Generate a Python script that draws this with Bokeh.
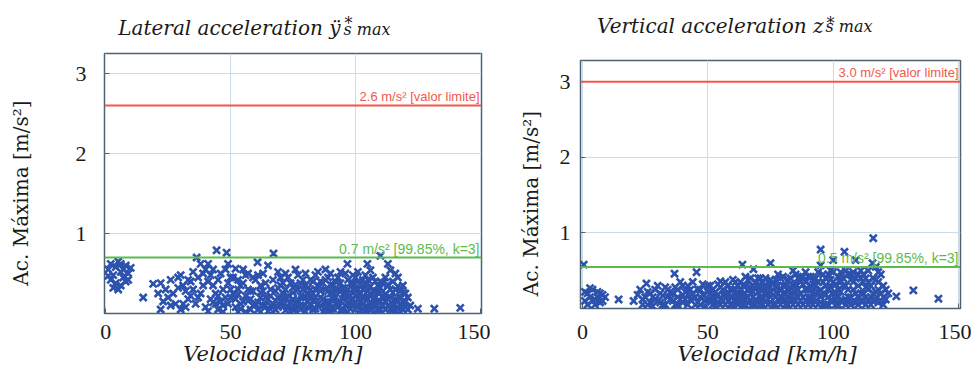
from bokeh.plotting import figure
from bokeh.layouts import row, column
from bokeh.models import Label, Span, Range1d, FixedTicker, Spacer
from bokeh.embed import file_html
from bokeh.resources import INLINE

# ---------------- data ----------------
speed_ticks = [0, 50, 100, 150]
acc_ticks = [1, 2, 3]

lat_limit = 2.6
lat_limit_text = "2.6 m/s² [valor limite]"
lat_p9985 = 0.7
lat_p9985_text = "0.7 m/s² [99.85%, k=3]"

vert_limit = 3.0
vert_limit_text = "3.0 m/s² [valor limite]"
vert_p9985 = 0.55
vert_p9985_text = "0.5 m/s² [99.85%, k=3]"

lat_title = ["Lateral acceleration ÿ", "*", "s max"]
vert_title = ["Vertical acceleration z", "*", "s max"]
y_title = "Ac. Máxima [m/s²]"
x_title = "Velocidad [km/h]"

# lateral acceleration samples: (speed km/h, acc m/s2)
lateral_points = [
    (1, 0.55), (2, 0.62), (3, 0.48), (4, 0.58), (5, 0.65), (6, 0.52), (7, 0.45), (8, 0.60), (9, 0.50), (2, 0.42),
    (4, 0.38), (6, 0.35), (8, 0.40), (3, 0.32), (5, 0.30), (7, 0.55), (9, 0.42), (10, 0.57), (1, 0.47), (6, 0.62),
    (15, 0.20),
    (19, 0.37), (22, 0.38), (24, 0.30), (26, 0.42), (27, 0.25), (29, 0.45), (30, 0.48), (31, 0.35), (32, 0.28), (33, 0.18),
    (34, 0.40), (25, 0.20), (28, 0.12), (30, 0.05), (32, 0.08), (34, 0.22), (21, 0.25), (23, 0.15), (35, 0.30), (36, 0.12),
    (36.4, 0.70), (38, 0.62), (40, 0.55), (41, 0.62), (42, 0.48), (43, 0.35), (44, 0.25), (44.4, 0.79), (45, 0.42), (46, 0.15),
    (47, 0.30), (48.4, 0.76), (48, 0.55), (49, 0.62), (50, 0.20), (37, 0.45), (39, 0.35), (40, 0.08), (42, 0.18), (45, 0.05),
    (47, 0.10), (49, 0.38), (38, 0.25), (43, 0.55),
    (51, 0.45), (52, 0.56), (53, 0.30), (54, 0.12), (55, 0.38), (56, 0.22), (57, 0.50), (58, 0.05), (59, 0.28), (60, 0.42),
    (52, 0.08), (54, 0.35), (56, 0.48), (58, 0.18), (60, 0.12), (51, 0.25), (53, 0.02), (55, 0.15), (57, 0.30), (59, 0.45),
    (60.8, 0.64), (62, 0.35), (63, 0.50), (64, 0.20), (65, 0.60), (66, 0.10), (67.2, 0.75), (67, 0.42), (68, 0.28), (69, 0.52),
    (70, 0.15), (61, 0.05), (62, 0.20), (63, 0.10), (64, 0.38), (65, 0.03), (66, 0.30), (68, 0.05), (69, 0.20), (70, 0.35),
    (61, 0.48), (63, 0.28), (67, 0.12), (70, 0.45),
    (71, 0.25), (72, 0.50), (73, 0.08), (74, 0.38), (75, 0.18), (76, 0.55), (77, 0.30), (78, 0.05), (79, 0.42), (80, 0.20),
    (71, 0.10), (72, 0.30), (73, 0.45), (74, 0.02), (75, 0.32), (76, 0.12), (77, 0.48), (78, 0.22), (79, 0.10), (80, 0.35),
    (72, 0.18), (75, 0.05), (78, 0.38), (80, 0.50),
    (81, 0.15), (82, 0.42), (83, 0.05), (84, 0.30), (85, 0.52), (86, 0.20), (87, 0.38), (88, 0.08), (89, 0.45), (90, 0.25),
    (81, 0.32), (82, 0.10), (83, 0.25), (84, 0.48), (85, 0.12), (86, 0.40), (87, 0.02), (88, 0.30), (89, 0.15), (90, 0.50),
    (82, 0.22), (85, 0.35), (88, 0.55), (90, 0.05),
    (91, 0.35), (92, 0.12), (93, 0.45), (94, 0.28), (95, 0.05), (96, 0.50), (96.8, 0.62), (97, 0.20), (98, 0.38), (99, 0.10),
    (100, 0.45), (91, 0.18), (92, 0.40), (93, 0.08), (94, 0.15), (95, 0.32), (96, 0.25), (97, 0.02), (98, 0.12), (99, 0.30),
    (100, 0.22), (92, 0.28), (94, 0.52), (97, 0.42), (99, 0.48), (100, 0.05),
    (101, 0.30), (102, 0.15), (103, 0.42), (104, 0.08), (104.8, 0.62), (105, 0.28), (106, 0.54), (107, 0.18), (108, 0.40), (109, 0.05),
    (110, 0.72), (110, 0.32), (101, 0.08), (102, 0.38), (103, 0.20), (104, 0.48), (105, 0.02), (106, 0.25), (107, 0.45), (108, 0.12),
    (109, 0.35), (110, 0.15), (101, 0.52), (103, 0.05), (106, 0.10), (108, 0.28), (102, 0.25), (105, 0.42),
    (111, 0.22), (112, 0.45), (113, 0.62), (113, 0.10), (114, 0.54), (114, 0.30), (115, 0.05), (115, 0.40), (116, 0.18), (117, 0.45),
    (117, 0.08), (118, 0.28), (118, 0.02), (119, 0.15), (119, 0.35), (120, 0.08), (121, 0.20), (111, 0.38), (112, 0.05), (116, 0.30),
    (120, 0.25), (112, 0.15), (116, 0.50),
    (125, 0.06), (131.6, 0.06), (142, 0.07),
    # dense lower band
    (41, 0.03), (43, 0.14), (45, 0.22), (47, 0.02), (49, 0.12), (50, 0.30),
    (52, 0.18), (53, 0.24), (54, 0.06), (56, 0.02), (57, 0.16), (58, 0.28), (59, 0.10),
    (61, 0.14), (62, 0.02), (62, 0.26), (64, 0.10), (65, 0.18), (66, 0.22), (67, 0.02), (68, 0.16), (69, 0.08), (69, 0.32),
    (71, 0.18), (71, 0.38), (72, 0.04), (73, 0.22), (74, 0.14), (75, 0.26), (76, 0.06), (76, 0.36), (77, 0.16), (78, 0.10),
    (79, 0.20), (79, 0.30), (80, 0.02),
    (81, 0.08), (81, 0.24), (82, 0.30), (83, 0.16), (83, 0.40), (84, 0.06), (84, 0.20), (86, 0.10), (86, 0.28), (87, 0.18),
    (88, 0.14), (88, 0.42), (89, 0.04), (89, 0.28), (90, 0.12), (90, 0.36),
    (91, 0.06), (91, 0.26), (92, 0.20), (93, 0.14), (93, 0.30), (94, 0.04), (94, 0.38), (95, 0.18), (95, 0.24), (96, 0.10),
    (97, 0.30), (97, 0.12), (98, 0.06), (98, 0.22), (99, 0.18), (99, 0.38), (100, 0.14), (100, 0.30),
    (101, 0.18), (101, 0.40), (102, 0.04), (103, 0.12), (103, 0.30), (104, 0.20), (104, 0.36), (105, 0.08), (105, 0.18), (106, 0.04),
    (106, 0.34), (107, 0.10), (107, 0.28), (108, 0.20), (108, 0.02), (109, 0.14), (109, 0.26), (110, 0.05), (110, 0.40),
    (111, 0.10), (111, 0.28), (112, 0.24), (113, 0.18), (113, 0.36), (114, 0.06), (114, 0.20), (115, 0.12), (115, 0.26), (116, 0.04),
    (117, 0.16), (117, 0.34), (118, 0.10), (118, 0.20), (119, 0.05), (119, 0.26), (120, 0.15), (121, 0.05), (122, 0.10),
    (22, 0.05), (26, 0.10), (29, 0.32), (31, 0.12), (33, 0.42), (35, 0.52), (37, 0.20), (39, 0.50), (41, 0.40), (44, 0.12),
    (46, 0.50), (48, 0.20), (50, 0.45), (53, 0.42), (55, 0.55),
]

# vertical acceleration samples: (speed km/h, acc m/s2)
vertical_points = [
    (0.5, 0.58), (1, 0.10), (2, 0.20), (3, 0.15), (4, 0.25), (5, 0.12), (6, 0.22), (7, 0.08), (8, 0.18), (2, 0.05),
    (4, 0.10), (6, 0.15), (1, 0.22), (3, 0.27), (5, 0.05), (7, 0.20), (8, 0.10), (9, 0.15),
    (14.4, 0.12), (20.4, 0.10),
    (22, 0.18), (24, 0.12), (25.5, 0.33), (26, 0.22), (27, 0.08), (28, 0.15), (29, 0.25), (30, 0.10), (31, 0.20), (32, 0.05),
    (33, 0.28), (34, 0.15), (35, 0.22), (36.7, 0.46), (36, 0.10), (26, 0.05), (30, 0.30), (32, 0.17), (23, 0.25),
    (37, 0.28), (38, 0.15), (39, 0.35), (40, 0.08), (41, 0.22), (42, 0.30), (43, 0.12), (44, 0.20), (45.5, 0.48), (45, 0.05),
    (46, 0.25), (47, 0.15), (48, 0.32), (49, 0.10), (50, 0.22), (38, 0.05), (41, 0.12), (44, 0.35), (47, 0.05), (50, 0.12),
    (51, 0.30), (52, 0.15), (53, 0.22), (54, 0.08), (55, 0.28), (56, 0.18), (57, 0.35), (58, 0.10), (59, 0.25), (60, 0.15),
    (52, 0.05), (54, 0.32), (56, 0.10), (58, 0.22), (60, 0.38), (55, 0.05), (53, 0.12), (59, 0.05),
    (61, 0.25), (62, 0.10), (63, 0.35), (63.8, 0.58), (64, 0.18), (65, 0.42), (66, 0.08), (67, 0.28), (68.2, 0.52), (68, 0.15),
    (69, 0.35), (70, 0.22), (61, 0.12), (62, 0.30), (64, 0.05), (65, 0.20), (66, 0.38), (67, 0.10), (69, 0.05), (70, 0.40),
    (63, 0.15), (68, 0.30),
    (71, 0.30), (72, 0.12), (73, 0.40), (74, 0.20), (75, 0.60), (75, 0.08), (76, 0.32), (77, 0.15), (78, 0.45), (79, 0.25),
    (80, 0.10), (71, 0.05), (72, 0.25), (73, 0.18), (74, 0.35), (76, 0.05), (77, 0.28), (78, 0.12), (79, 0.40), (80, 0.30),
    (75, 0.22),
    (81, 0.20), (82, 0.38), (83, 0.10), (84, 0.30), (85, 0.45), (86, 0.15), (87, 0.35), (88, 0.05), (89, 0.25), (90, 0.42),
    (81, 0.05), (82, 0.15), (83, 0.28), (84, 0.12), (85, 0.22), (86, 0.40), (87, 0.10), (88, 0.32), (89, 0.48), (90, 0.15),
    (84, 0.50),
    (91, 0.30), (92, 0.12), (93, 0.40), (94, 0.22), (95, 0.78), (95, 0.57), (95, 0.08), (96, 0.35), (97, 0.18), (98, 0.45),
    (99, 0.28), (100, 0.64), (100, 0.10), (91, 0.08), (92, 0.32), (93, 0.20), (94, 0.48), (96, 0.05), (97, 0.40), (98, 0.15),
    (99, 0.50), (100, 0.35),
    (101, 0.20), (102, 0.42), (103, 0.10), (104, 0.30), (104.5, 0.75), (105, 0.50), (106, 0.15), (107, 0.38), (108, 0.25), (109, 0.64),
    (109, 0.08), (110, 0.45), (111, 0.20), (112, 0.35), (101, 0.05), (102, 0.25), (103, 0.35), (105, 0.12), (106, 0.45), (107, 0.05),
    (108, 0.48), (110, 0.15), (111, 0.40), (112, 0.10),
    (113, 0.28), (114, 0.50), (115, 0.15), (115.7, 0.60), (116, 0.93), (116, 0.40), (117, 0.22), (117, 0.55), (118, 0.35), (118, 0.08),
    (119, 0.20), (113, 0.05), (114, 0.12), (119, 0.45), (120, 0.15), (121, 0.25),
    (125.2, 0.16), (132, 0.24), (142, 0.13),
    # dense lower band
    (24, 0.05), (25, 0.15), (27, 0.20), (28, 0.03), (29, 0.12), (31, 0.08), (33, 0.05), (34, 0.25), (35, 0.12), (36, 0.20),
    (37, 0.05), (38, 0.25), (39, 0.12), (40, 0.18), (40, 0.30), (42, 0.05), (42, 0.18), (43, 0.25), (45, 0.15), (46, 0.08),
    (47, 0.25), (48, 0.18), (49, 0.03), (50, 0.30),
    (51, 0.08), (51, 0.20), (52, 0.25), (53, 0.03), (54, 0.18), (55, 0.12), (55, 0.36), (56, 0.25), (57, 0.05), (57, 0.18),
    (58, 0.30), (59, 0.15), (60, 0.05), (60, 0.25),
    (61, 0.18), (61, 0.35), (62, 0.05), (62, 0.22), (63, 0.25), (64, 0.12), (64, 0.30), (65, 0.05), (65, 0.30), (66, 0.15),
    (66, 0.25), (67, 0.20), (67, 0.40), (68, 0.05), (68, 0.22), (69, 0.12), (69, 0.28), (70, 0.08), (70, 0.30),
    (71, 0.15), (71, 0.40), (72, 0.05), (72, 0.35), (73, 0.10), (73, 0.28), (74, 0.05), (74, 0.28), (75, 0.15), (75, 0.38),
    (76, 0.18), (76, 0.25), (77, 0.05), (77, 0.38), (78, 0.20), (78, 0.30), (79, 0.05), (79, 0.15), (80, 0.20), (80, 0.42),
    (81, 0.12), (81, 0.30), (82, 0.05), (82, 0.25), (83, 0.18), (83, 0.40), (84, 0.20), (84, 0.05), (85, 0.10), (85, 0.32),
    (86, 0.05), (86, 0.25), (87, 0.20), (87, 0.42), (88, 0.15), (88, 0.42), (89, 0.10), (89, 0.35), (90, 0.05), (90, 0.25),
    (91, 0.15), (91, 0.42), (92, 0.05), (92, 0.22), (93, 0.10), (93, 0.30), (94, 0.05), (94, 0.35), (95, 0.15), (95, 0.25),
    (96, 0.20), (96, 0.45), (97, 0.05), (97, 0.30), (98, 0.25), (98, 0.05), (99, 0.10), (99, 0.38), (100, 0.20), (100, 0.48),
    (101, 0.12), (101, 0.32), (102, 0.05), (102, 0.15), (103, 0.22), (103, 0.48), (104, 0.10), (104, 0.40), (105, 0.05), (105, 0.30),
    (106, 0.25), (106, 0.08), (107, 0.15), (107, 0.45), (108, 0.10), (108, 0.35), (109, 0.20), (109, 0.40), (110, 0.05), (110, 0.30),
    (111, 0.10), (111, 0.50), (112, 0.20), (112, 0.45), (113, 0.15), (113, 0.40), (114, 0.25), (114, 0.35), (115, 0.05), (115, 0.30),
    (116, 0.10), (116, 0.20), (117, 0.12), (117, 0.38), (118, 0.25), (118, 0.48), (119, 0.10), (120, 0.30), (120, 0.05), (121, 0.12),
    (122, 0.20),
]

# ---------------- style ----------------
FRAME = "#4d6272"
GRID = "#cddbe4"
BLUE = "#2c52ae"
RED = "#f2584a"
GREEN = "#5dbb4e"
SERIF = "Liberation Serif"
WIDE_SERIF = "DejaVu Serif"
SANS = "Liberation Sans"
INK = "#1a1a1a"
NBSP = "\u00a0"


def title_fig(parts, width, height, left, right, pos):
    t = figure(width=width, height=height, output_backend="svg", toolbar_location=None,
               x_range=Range1d(0, 1), y_range=Range1d(0, 1),
               x_axis_location=None, y_axis_location=None,
               min_border_left=left, min_border_right=right, min_border_top=0, min_border_bottom=0)
    t.outline_line_color = None
    t.grid.visible = False
    (mx, my), (sx, sy), (bx, by) = pos
    t.add_layout(Label(x=mx, y=my, x_units="screen", y_units="screen", text=parts[0],
                       text_align="right", text_baseline="alphabetic", text_font=WIDE_SERIF,
                       text_font_style="italic", text_font_size="20px", text_color=INK))
    t.add_layout(Label(x=sx, y=sy, x_units="screen", y_units="screen", text=parts[1],
                       text_align="left", text_baseline="alphabetic", text_font=WIDE_SERIF,
                       text_font_size="16px", text_color=INK))
    t.add_layout(Label(x=bx, y=by, x_units="screen", y_units="screen", text=parts[2],
                       text_align="left", text_baseline="alphabetic", text_font=WIDE_SERIF,
                       text_font_style="italic", text_font_size="16px", text_color=INK))
    return t


def panel(points, limit, limit_text, p9985, p9985_text, x_rng, y_rng,
          width, height, borders, ylab_standoff, ytick_standoff, xtick_standoff, xlab_standoff,
          ylab_pad, xlab_pad):
    left, right, top, bottom = borders
    p = figure(width=width, height=height, output_backend="svg", toolbar_location=None,
               x_range=Range1d(*x_rng), y_range=Range1d(*y_rng),
               min_border_left=left, min_border_right=right,
               min_border_top=top, min_border_bottom=bottom)
    p.background_fill_color = "white"
    p.border_fill_color = "white"
    p.outline_line_color = FRAME
    p.outline_line_width = 1.5

    p.xaxis.ticker = FixedTicker(ticks=speed_ticks)
    p.yaxis.ticker = FixedTicker(ticks=acc_ticks)
    for ax in (p.xaxis, p.yaxis):
        ax.axis_line_color = None
        ax.major_tick_in = 5
        ax.major_tick_out = 0
        ax.major_tick_line_color = FRAME
        ax.minor_tick_line_color = None
        ax.major_label_text_font = SERIF
        ax.major_label_text_font_size = "22px"
        ax.major_label_text_color = INK
        ax.axis_label_text_font = WIDE_SERIF
        ax.axis_label_text_color = INK
    # trailing non-breaking spaces shift the centred label like the reference
    p.yaxis.axis_label = y_title + NBSP * ylab_pad
    p.yaxis.axis_label_text_font_style = "normal"
    p.yaxis.axis_label_text_font_size = "20px"
    p.yaxis.axis_label_standoff = ylab_standoff
    p.yaxis.major_label_standoff = ytick_standoff
    p.xaxis.axis_label = x_title + NBSP * xlab_pad
    p.xaxis.axis_label_text_font_style = "italic"
    p.xaxis.axis_label_text_font_size = "21px"
    p.xaxis.axis_label_standoff = xlab_standoff
    p.xaxis.major_label_standoff = xtick_standoff

    p.xgrid.grid_line_color = GRID
    p.ygrid.grid_line_color = GRID
    p.xgrid.ticker = FixedTicker(ticks=speed_ticks)
    p.ygrid.ticker = FixedTicker(ticks=acc_ticks)

    p.add_layout(Span(location=limit, dimension="width", line_color=RED, line_width=2))
    p.add_layout(Span(location=p9985, dimension="width", line_color=GREEN, line_width=2))

    xs = [pt[0] for pt in points]
    ys = [pt[1] for pt in points]
    p.scatter(xs, ys, marker="x", size=10, line_width=2.6, line_color=BLUE)

    p.add_layout(Label(x=x_rng[1], y=limit, text=limit_text, text_align="right",
                       text_baseline="bottom", x_offset=-2, y_offset=2,
                       text_font=SANS, text_font_size="13px", text_color=RED))
    p.add_layout(Label(x=x_rng[1], y=p9985, text=p9985_text, text_align="right",
                       text_baseline="bottom", x_offset=-2, y_offset=1,
                       text_font=SANS, text_font_size="14px", text_color=GREEN))
    return p


t1 = title_fig(lat_title, 490, 43, 104, 9, ((236, 16), (240, 20), (239, 14)))
p1 = panel(lateral_points, lat_limit, lat_limit_text, lat_p9985, lat_p9985_text,
           (-0.5, 150.5), (0, 3.25), 490, 331, (104, 9, 10, 61),
           ylab_standoff=40, ytick_standoff=18, xtick_standoff=11, xlab_standoff=0,
           ylab_pad=3, xlab_pad=6)

t2 = title_fig(vert_title, 481, 50, 90, 11, ((243, 25), (246, 27), (245, 24)))
p2 = panel(vertical_points, vert_limit, vert_limit_text, vert_p9985, vert_p9985_text,
           (-0.8, 150.8), (0, 3.28), 481, 319, (90, 11, 10, 61),
           ylab_standoff=14, ytick_standoff=10, xtick_standoff=16, xlab_standoff=0,
           ylab_pad=6, xlab_pad=1)
s2 = Spacer(width=481, height=5)

layout = row(column(t1, p1), column(t2, p2, s2))
open("out.html", "w").write(file_html(layout, INLINE))
